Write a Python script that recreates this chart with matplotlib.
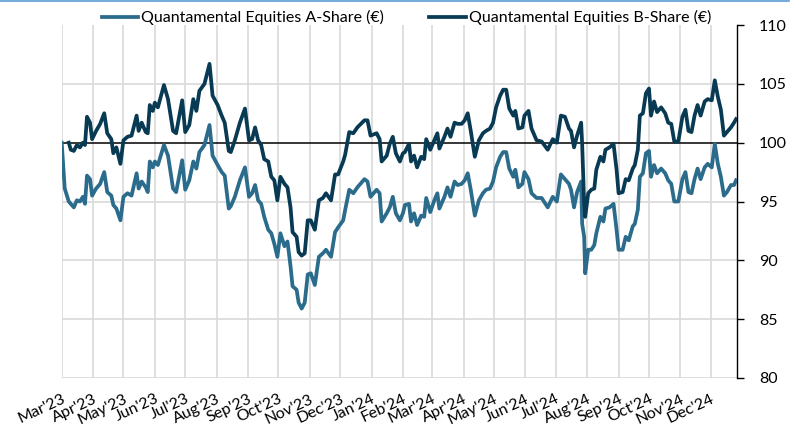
import matplotlib.pyplot as plt
import numpy as np
import pandas as pd

plt.rcParams['font.family'] = ['Lato', 'DejaVu Sans']

# days since 1 Mar 2023
days = [0, 3, 7, 9, 12, 15, 18, 21, 23, 25,
        28, 30, 34, 38, 42, 45, 49, 51, 54, 58,
        61, 65, 69, 74, 76, 79, 83, 85, 87, 90,
        92, 95, 101, 105, 110, 113, 119, 122, 126, 130,
        133, 136, 141, 146, 149, 154, 158, 161, 165, 167,
        171, 176, 181, 185, 188, 191, 194, 197, 200, 204,
        207, 210, 213, 216, 220, 223, 226, 228, 232, 234,
        237, 240, 243, 246, 250, 254, 258, 261, 266, 270,
        273, 278, 280, 284, 288, 292, 299, 302, 305, 311,
        314, 316, 321, 324, 327, 330, 334, 337, 339, 343,
        345, 348, 351, 355, 358, 360, 364, 368, 371, 373,
        378, 381, 384, 388, 391, 395, 398, 401, 404, 408,
        412, 416, 419, 423, 426, 429, 433, 436, 439, 442,
        446, 448, 451, 455, 457, 461, 464, 469, 474, 480,
        485, 489, 493, 497, 501, 503, 506, 509, 513, 514,
        516, 517, 520, 523, 526, 528, 532, 535, 537, 541,
        545, 548, 550, 554, 557, 560, 564, 566, 569, 571,
        574, 577, 580, 582, 585, 588, 592, 596, 599, 602,
        605, 609, 613, 616, 619, 622, 625, 628, 631, 635,
        638, 642, 645, 648, 651, 654, 657, 661, 664, 666]

share_a = [100.0, 96.1, 95.0, 94.8, 94.5, 95.1, 95.0, 95.4, 94.8, 97.2,
           96.9, 95.5, 96.1, 96.5, 97.5, 95.8, 95.5, 94.7, 94.4, 93.4,
           95.4, 95.7, 95.5, 97.4, 96.1, 96.7, 96.2, 95.8, 98.4, 97.9,
           98.4, 98.1, 99.8, 98.9, 96.1, 95.8, 98.5, 96.0, 96.8, 98.4,
           97.8, 99.2, 99.8, 101.5, 98.9, 98.1, 97.5, 97.2, 94.4, 94.6,
           95.4, 96.8, 97.9, 95.4, 95.7, 96.4, 95.1, 94.8, 93.7, 92.6,
           92.3, 91.4, 90.3, 92.3, 91.2, 91.6, 89.5, 87.8, 87.5, 86.4,
           85.9, 86.4, 88.8, 88.9, 87.9, 90.3, 90.6, 90.9, 90.3, 92.4,
           92.8, 93.4, 94.3, 96.0, 95.7, 96.2, 96.9, 96.7, 95.4, 96.0,
           95.7, 93.3, 94.0, 94.5, 95.4, 94.0, 93.4, 94.0, 94.7, 94.8,
           93.3, 94.0, 93.0, 93.8, 93.7, 95.3, 94.1, 95.1, 95.7, 94.4,
           95.4, 96.2, 95.4, 96.7, 96.4, 96.5, 96.8, 97.4, 96.0, 93.8,
           95.1, 95.7, 96.0, 96.1, 96.7, 97.9, 98.8, 99.2, 99.2, 97.8,
           97.1, 97.7, 96.2, 96.5, 97.5, 96.9, 95.7, 95.3, 95.3, 94.5,
           95.4, 95.0, 97.3, 96.9, 96.5, 96.0, 94.5, 95.8, 96.7, 93.1,
           92.0, 88.9, 90.9, 90.9, 91.3, 92.3, 93.7, 93.3, 94.4, 94.5,
           94.8, 92.6, 90.9, 90.9, 92.0, 91.7, 92.9, 93.1, 94.3, 97.1,
           97.4, 99.1, 99.3, 97.1, 98.1, 97.4, 97.8, 97.4, 96.8, 96.5,
           95.0, 95.0, 96.9, 97.5, 95.8, 95.7, 96.9, 97.8, 96.9, 97.9,
           98.2, 97.9, 99.9, 98.2, 97.1, 95.5, 95.8, 96.4, 96.4, 96.8]

share_b = [np.nan, np.nan, 100.0, 99.4, 99.3, 99.8, 99.6, 100.0, 99.8, 102.2,
           101.7, 100.3, 101.0, 101.6, 102.5, 100.8, 100.3, 99.1, 99.6, 98.2,
           100.2, 100.5, 100.6, 102.3, 101.0, 101.7, 100.9, 100.8, 103.2, 102.7,
           103.4, 103.0, 104.9, 103.7, 101.0, 100.8, 103.6, 100.9, 101.5, 103.7,
           102.7, 104.4, 105.0, 106.7, 104.0, 103.2, 102.3, 101.7, 99.3, 99.2,
           100.2, 101.7, 102.9, 100.2, 100.3, 101.3, 100.2, 99.8, 98.6, 98.4,
           97.1, 96.8, 95.1, 97.1, 96.5, 96.2, 94.5, 92.4, 92.0, 90.7,
           90.4, 90.6, 93.4, 93.4, 92.6, 95.1, 95.3, 95.7, 95.1, 97.3,
           97.3, 98.4, 99.0, 100.9, 100.8, 101.3, 101.9, 101.9, 100.6, 100.8,
           100.3, 98.4, 98.9, 99.9, 100.5, 99.1, 98.4, 99.1, 99.2, 99.9,
           98.4, 98.9, 97.9, 98.8, 98.6, 100.3, 99.4, 100.2, 100.8, 99.5,
           100.5, 101.2, 100.5, 101.7, 101.6, 101.6, 101.9, 102.5, 101.0, 98.8,
           100.2, 100.8, 101.0, 101.2, 101.7, 103.0, 104.0, 104.5, 104.5, 102.9,
           102.3, 102.7, 101.2, 101.3, 102.3, 102.7, 101.2, 100.2, 100.1, 99.4,
           100.3, 100.0, 102.3, 102.2, 101.2, 101.0, 99.6, 100.6, 101.7, 99.9,
           94.8, 93.7, 95.7, 96.0, 96.1, 97.7, 98.8, 98.4, 99.4, 99.6,
           99.9, 97.7, 95.7, 95.8, 96.9, 96.8, 97.8, 98.1, 99.4, 102.3,
           102.5, 104.2, 104.6, 102.3, 103.5, 102.6, 103.0, 102.5, 101.7, 101.6,
           100.1, 100.1, 102.2, 102.8, 101.0, 100.9, 102.3, 103.2, 102.3, 103.5,
           103.7, 103.6, 105.3, 103.9, 102.8, 100.6, 100.9, 101.3, 101.7, 102.0]

labels = ['Quantamental Equities A-Share (€)', 'Quantamental Equities B-Share (€)']
y_ticks = [80, 85, 90, 95, 100, 105, 110]

start = pd.Timestamp('2023-03-01')
dates = start + pd.to_timedelta(days, unit='D')
months = pd.date_range('2023-03-01', '2024-12-01', freq='MS')
month_labels = [m.strftime("%b'%y") for m in months]

col_a = '#2B6B8B'
col_b = '#083A54'

fig = plt.figure(figsize=(7.97, 4.29), dpi=100)
ax = fig.add_axes([0.0774, 0.1189, 0.8469, 0.8228])

ax.plot(dates, share_a, color=col_a, lw=2.7, label=labels[0], zorder=3)
ax.plot(dates, share_b, color=col_b, lw=2.7, label=labels[1], zorder=3)

for v in y_ticks[:-1]:
    if v == 100:
        ax.axhline(v, color='black', lw=1.1, zorder=2)
    else:
        ax.axhline(v, color='#D9D9D9', lw=1.2, zorder=1)
for m in months:
    ax.axvline(m, color='#D9D9D9', lw=1.2, zorder=1)

ax.set_xlim(start, start + pd.Timedelta(days=666.6))
ax.set_ylim(80, 110)
ax.set_yticks(y_ticks)
ax.yaxis.tick_right()
ax.tick_params(axis='y', direction='out', length=5, width=1, pad=11, labelsize=11.5)
ax.set_xticks(months)
ax.set_xticklabels(month_labels, rotation=25, ha='right', rotation_mode='anchor')
ax.tick_params(axis='x', length=0, pad=10, labelsize=11.5)

for s in ['left', 'top', 'bottom']:
    ax.spines[s].set_visible(False)
ax.spines['right'].set_color('black')
ax.spines['right'].set_linewidth(1)

fig.legend(loc='upper center', bbox_to_anchor=(0.51, 1.01), ncol=2, frameon=False,
           fontsize=11.5, handlelength=2.3, handletextpad=0.2, columnspacing=2.8)

fig.add_artist(plt.Line2D([0, 0.99], [0.998, 0.998], color='#5B9BD5', lw=1.2,
                          transform=fig.transFigure))

fig.savefig('out.png', dpi=100)
